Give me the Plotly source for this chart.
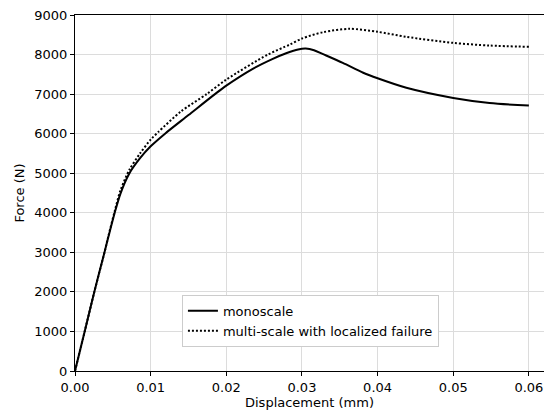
import plotly.graph_objects as go

# Displacement (mm) / Force (N)
mono_x = [0, 0.00128, 0.00255, 0.0039, 0.0044, 0.00525, 0.006, 0.0072, 0.0086, 0.01,
          0.0119, 0.015, 0.0185, 0.02, 0.0235, 0.026, 0.028, 0.0295, 0.0305, 0.0316,
          0.0328, 0.0354, 0.0381, 0.04, 0.0438, 0.05, 0.0548, 0.06]
mono_y = [0, 1000, 2000, 3000, 3380, 4000, 4480, 5000, 5380, 5680,
          6000, 6470, 7000, 7215, 7640, 7880, 8040, 8130, 8152, 8110,
          8010, 7790, 7540, 7400, 7160, 6903, 6776, 6709]

multi_x = [0, 0.00128, 0.00255, 0.0039, 0.0044, 0.00525, 0.006, 0.0072, 0.0086, 0.01,
           0.011, 0.014, 0.0174, 0.02, 0.0255, 0.0284, 0.03, 0.0328, 0.0363, 0.04,
           0.0438, 0.05, 0.0548, 0.06]
multi_y = [0, 1000, 2000, 3000, 3400, 4040, 4560, 5090, 5500, 5850,
           6040, 6560, 7000, 7367, 8000, 8253, 8405, 8565, 8650, 8575,
           8448, 8296, 8228, 8195]

x_ticks = [0.00, 0.01, 0.02, 0.03, 0.04, 0.05, 0.06]
y_ticks = [0, 1000, 2000, 3000, 4000, 5000, 6000, 7000, 8000, 9000]

FONT = "DejaVu Sans"

fig = go.Figure()
fig.add_trace(go.Scatter(x=mono_x, y=mono_y, mode="lines", name="monoscale",
                         line=dict(color="black", width=2, shape="spline", smoothing=0.8)))
fig.add_trace(go.Scatter(x=multi_x, y=multi_y, mode="lines",
                         name="multi-scale with localized failure",
                         line=dict(color="black", width=2, dash="2px,2px",
                                   shape="spline", smoothing=0.8)))

fig.update_layout(
    width=544, height=412,
    margin=dict(l=75, r=0, t=15, b=41),
    paper_bgcolor="white", plot_bgcolor="white",
    font=dict(family=FONT, size=13, color="black"),
    showlegend=True,
    legend=dict(x=0.228, y=0.068, xanchor="left", yanchor="bottom",
                bgcolor="white", bordercolor="#cccccc", borderwidth=1,
                font=dict(family=FONT, size=13), tracegroupgap=0),
    xaxis=dict(range=[0, 0.062], tickvals=x_ticks, tickformat=".2f",
               showgrid=True, gridcolor="#dcdcdc", gridwidth=0.8,
               showline=True, linecolor="black", linewidth=1.2, mirror=True,
               ticks="outside", ticklen=4, tickcolor="black",
               zeroline=False,
               title=dict(text="Displacement (mm)", standoff=3,
                          font=dict(family=FONT, size=13))),
    yaxis=dict(range=[0, 9000], tickvals=y_ticks,
               showgrid=True, gridcolor="#dcdcdc", gridwidth=0.8,
               showline=True, linecolor="black", linewidth=1.2,
               ticks="outside", ticklen=4, tickcolor="black",
               zeroline=False,
               title=dict(text="Force (N)", standoff=6,
                          font=dict(family=FONT, size=13))),
)

fig.write_html("out.html", config={"displayModeBar": False},
               post_script="document.body.style.margin='0px';")
